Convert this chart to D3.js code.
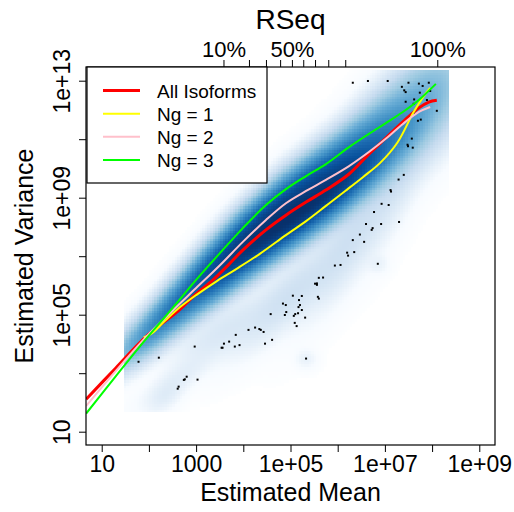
<!DOCTYPE html>
<html>
<head>
<meta charset="utf-8">
<script src="https://cdn.jsdelivr.net/npm/d3@7"></script>
<style>
  body { margin: 0; background: #fff; }
  text { font-family: "Liberation Sans", Arial, Helvetica, sans-serif; fill: #000; }
</style>
</head>
<body>
<div id="chart"></div>
<script>
(function() {
  'use strict';

  // ---- axis ticks (R style: some labels dropped because they overlap) ----
  var meanTicks = [10, 1e2, 1e3, 1e4, 1e5, 1e6, 1e7, 1e8, 1e9];
  var meanTickLabels = ['10', '', '1000', '', '1e+05', '', '1e+07', '', '1e+09'];
  var varTicks = [10, 1e3, 1e5, 1e7, 1e9, 1e11, 1e13];
  var varTickLabels = ['10', '', '1e+05', '', '1e+09', '', '1e+13'];

  // RSeq quantiles of the mean (log10), top axis
  var rseqLogMean = [3.58, 4.12, 4.48, 4.78, 5.03, 5.27, 5.52, 5.80, 6.16, 8.11];
  var rseqLabels = ['10%', '', '', '', '50%', '', '', '', '', '100%'];

  // ---- fitted mean/variance curves (log10 mean, log10 variance) ----
  var allLogMean = [0.67, 1.30, 1.94, 2.64, 3.00, 3.36, 3.70, 3.99, 4.48, 4.91, 5.33, 5.75, 6.24, 6.66, 7.02, 7.38, 7.72, 7.93, 8.10];
  var allLogVar  = [2.11, 3.18, 4.25, 5.16, 5.71, 6.19, 6.73, 7.21, 7.90, 8.41, 8.85, 9.26, 9.81, 10.49, 11.04, 11.59, 12.07, 12.27, 12.33];

  var ng1LogMean = [1.89, 2.07, 2.34, 2.66, 3.00, 3.44, 3.85, 4.35, 4.91, 5.33, 5.75, 6.16, 6.54, 6.90, 7.26, 7.60, 7.81, 7.96];
  var ng1LogVar  = [4.22, 4.37, 4.79, 5.26, 5.67, 6.15, 6.56, 7.08, 7.73, 8.20, 8.72, 9.23, 9.71, 10.19, 10.87, 11.90, 12.44, 12.75];

  var ng2LogMean = [0.67, 1.30, 1.94, 2.45, 3.00, 3.51, 3.99, 4.48, 4.91, 5.33, 5.75, 6.24, 6.66, 7.07, 7.38, 7.72, 7.96];
  var ng2LogVar  = [1.88, 3.08, 4.24, 5.06, 5.91, 6.70, 7.49, 8.24, 8.82, 9.23, 9.61, 10.08, 10.56, 11.08, 11.52, 11.93, 12.10];

  var ng3LogMean = [0.67, 1.30, 1.94, 2.45, 3.00, 3.49, 3.99, 4.48, 4.91, 5.33, 5.75, 6.24, 6.66, 7.02, 7.38, 7.72, 8.08];
  var ng3LogVar  = [1.62, 2.90, 4.17, 5.13, 6.19, 7.08, 7.96, 8.75, 9.30, 9.74, 10.15, 10.73, 11.18, 11.55, 11.93, 12.34, 12.89];

  var seriesNames = ['All Isoforms', 'Ng = 1', 'Ng = 2', 'Ng = 3'];

  // ---- low-density points drawn by smoothScatter (log10 mean, log10 variance) ----
  var outLogMean = [6.32, 6.64, 7.06, 7.50, 7.72, 7.80, 7.93, 7.36, 7.41, 7.44, 7.96, 7.74, 7.62, 7.44, 7.89, 7.61, 8.10, 7.62, 7.76, 7.70,
    7.57, 7.48, 7.49, 7.59, 7.40, 7.29, 7.12, 7.13, 6.93, 7.08, 6.77,
    7.30, 6.60, 6.92, 6.74, 6.72, 6.47, 6.32, 6.56, 6.20, 6.22, 6.35, 6.85, 5.94, 6.06, 5.60, 5.69, 5.52, 5.56, 5.56,
    5.05, 5.24, 5.18, 5.58, 5.60, 4.84, 4.90, 5.20, 5.17, 5.24, 4.91, 4.58, 4.88, 5.10, 5.16, 5.07, 5.31, 5.09, 5.13, 4.61,
    4.11, 4.25, 4.34, 4.37, 4.43, 3.84, 3.70, 3.59, 3.54, 3.56, 3.82, 3.92, 4.46, 2.97, 1.78, 2.21, 2.80, 2.76, 2.74, 3.03,
    2.63, 2.61, 5.33];
  var outLogVar = [12.93, 12.99, 12.99, 12.93, 12.90, 12.82, 12.93, 12.79, 12.67, 12.61, 12.65, 12.59, 12.36, 12.28, 12.34, 12.21, 11.97, 11.90, 11.67, 11.63,
    11.02, 10.81, 10.76, 10.71, 9.78, 9.62, 9.26, 9.21, 8.79, 8.75, 8.51,
    8.17, 8.10, 8.10, 7.96, 7.90, 7.74, 7.55, 7.49, 7.12, 7.02, 7.14, 6.74, 6.68, 6.70, 6.26, 6.27, 6.06, 6.07, 6.02,
    5.65, 5.64, 5.50, 5.61, 5.55, 5.38, 5.33, 5.33, 5.26, 5.16, 5.09, 5.02, 4.99, 5.02, 5.05, 4.96, 4.90, 4.72, 4.61, 4.14,
    4.48, 4.56, 4.51, 4.48, 4.41, 4.31, 4.08, 4.01, 3.87, 3.87, 3.91, 3.96, 4.01, 3.91, 3.39, 3.53, 2.88, 2.79, 2.77, 2.78,
    2.54, 2.47, 3.50];

  // ---- clusters of the point cloud, used for the smoothed density image ----
  // upper ridge, lower ridge, faint shoulder under the band, lower-left streaks, two isolated specks
  var clusterLogMean = [1.90, 2.70, 3.50, 4.30, 5.10, 5.90, 6.70, 7.50, 8.10,
    2.30, 3.10, 3.90, 4.70, 5.50, 6.30, 7.10, 7.90,
    3.60, 5.00, 6.30, 7.30,
    2.60, 2.35, 6.85, 5.33];
  var clusterLogVar = [4.40, 5.70, 7.00, 8.15, 9.15, 10.05, 11.05, 12.15, 12.95,
    4.70, 5.85, 6.90, 7.85, 8.75, 9.75, 10.85, 11.90,
    4.50, 5.70, 7.70, 10.00,
    2.80, 2.20, 6.75, 3.50];
  var clusterSlope = [1.5, 1.6, 1.5, 1.3, 1.2, 1.2, 1.3, 1.3, 1.3,
    1.3, 1.3, 1.3, 1.2, 1.2, 1.3, 1.4, 1.4,
    0.9, 1.3, 2.0, 2.5,
    1.0, 0.8, 0.0, 0.0];
  var clusterSdMean = [0.40, 0.45, 0.45, 0.45, 0.45, 0.45, 0.45, 0.45, 0.35,
    0.40, 0.45, 0.45, 0.45, 0.45, 0.45, 0.45, 0.45,
    0.55, 0.60, 0.50, 0.40,
    0.40, 0.20, 0.12, 0.12];
  var clusterSdVar = [0.36, 0.38, 0.40, 0.42, 0.45, 0.48, 0.58, 0.72, 0.80,
    0.36, 0.40, 0.42, 0.44, 0.45, 0.50, 0.60, 0.75,
    0.42, 0.50, 0.70, 0.80,
    0.28, 0.25, 0.18, 0.18];
  var clusterWeight = [0.06, 0.12, 0.24, 0.32, 0.32, 0.26, 0.10, 0.035, 0.01,
    0.08, 0.18, 0.38, 0.45, 0.45, 0.36, 0.12, 0.03,
    0.0025, 0.005, 0.005, 0.004,
    0.0012, 0.0012, 0.0006, 0.0006];

  // range of the data covered by the density image (log10)
  var gridLogMean = [1.47, 8.34];
  var gridLogVar = [1.67, 13.38];
  var nbin = 128;

  var blues9 = ['#F7FBFF', '#DEEBF7', '#C6DBEF', '#9ECAE1', '#6BAED6', '#4292C6', '#2171B5', '#08519C', '#08306B'];
  var lineColors = ['#FF0000', '#FFFF00', '#FFC0CB', '#00FF00'];
  var lineWidths = [3, 2, 2, 2];

  var svgW = 514, svgH = 512;
  var left = 86, right = 495, top = 67, bottom = 445;

  var svg = d3.select('#chart')
    .append('svg')
    .attr('width', svgW)
    .attr('height', svgH);

  var x = d3.scaleLog()
    .domain([Math.pow(10, 0.667), Math.pow(10, 9.333)])
    .range([left, right]);
  var y = d3.scaleLog()
    .domain([Math.pow(10, 0.545), Math.pow(10, 13.468)])
    .range([bottom, top]);

  function p10(v) { return Math.pow(10, v); }

  svg.append('clipPath')
    .attr('id', 'plot-clip')
    .append('rect')
    .attr('x', left).attr('y', top)
    .attr('width', right - left).attr('height', bottom - top);

  var plot = svg.append('g').attr('clip-path', 'url(#plot-clip)');

  // ---- smoothed density image (nbin x nbin, density^0.25 like smoothScatter) ----
  var dx = (gridLogMean[1] - gridLogMean[0]) / nbin,
    dy = (gridLogVar[1] - gridLogVar[0]) / nbin;
  var cells = [], maxD = 0;
  for (var j = 0; j < nbin; j++) {
    for (var i = 0; i < nbin; i++) {
      var lx = gridLogMean[0] + (i + 0.5) * dx,
        ly = gridLogVar[0] + (j + 0.5) * dy,
        d = 0;
      for (var k = 0; k < clusterWeight.length; k++) {
        var u = (lx - clusterLogMean[k]) / clusterSdMean[k];
        var v = (ly - clusterLogVar[k] - clusterSlope[k] * (lx - clusterLogMean[k])) / clusterSdVar[k];
        d += clusterWeight[k] * Math.exp(-0.5 * (u * u + v * v));
      }
      if (d > maxD) maxD = d;
      cells.push({ i: i, j: j, d: d });
    }
  }

  var ramp = d3.scaleLinear()
    .domain(d3.range(10).map(function(n) { return n / 9; }))
    .range(['#FFFFFF'].concat(blues9))
    .clamp(true);

  cells.forEach(function(c) {
    c.t = Math.pow(c.d / maxD, 0.25);
  });

  plot.append('g')
    .selectAll('rect')
    .data(cells.filter(function(c) { return c.t > 0.03; }))
    .enter()
    .append('rect')
    .attr('x', function(c) { return x(p10(gridLogMean[0] + c.i * dx)); })
    .attr('y', function(c) { return y(p10(gridLogVar[0] + (c.j + 1) * dy)); })
    .attr('width', function(c) { return x(p10(gridLogMean[0] + (c.i + 1) * dx)) - x(p10(gridLogMean[0] + c.i * dx)) + 0.4; })
    .attr('height', function(c) { return y(p10(gridLogVar[0] + c.j * dy)) - y(p10(gridLogVar[0] + (c.j + 1) * dy)) + 0.4; })
    .attr('fill', function(c) { return ramp(c.t); })
    .attr('shape-rendering', 'crispEdges');

  // ---- outlying points ----
  plot.append('g')
    .selectAll('rect')
    .data(outLogMean.map(function(m, n) { return [m, outLogVar[n]]; }))
    .enter()
    .append('rect')
    .attr('x', function(d) { return x(p10(d[0])) - 1; })
    .attr('y', function(d) { return y(p10(d[1])) - 1; })
    .attr('width', 2)
    .attr('height', 2)
    .attr('fill', '#000');

  // ---- curves ----
  var curves = [
    [allLogMean, allLogVar],
    [ng1LogMean, ng1LogVar],
    [ng2LogMean, ng2LogVar],
    [ng3LogMean, ng3LogVar]
  ];

  var line = d3.line()
    .x(function(d) { return x(p10(d[0])); })
    .y(function(d) { return y(p10(d[1])); })
    .curve(d3.curveCatmullRom.alpha(0.5));

  curves.forEach(function(c, n) {
    var pts = c[0].map(function(m, q) { return [m, c[1][q]]; });
    plot.append('path')
      .attr('d', line(pts))
      .attr('fill', 'none')
      .attr('stroke', lineColors[n])
      .attr('stroke-width', lineWidths[n]);
  });

  // ---- box ----
  svg.append('rect')
    .attr('x', left).attr('y', top)
    .attr('width', right - left).attr('height', bottom - top)
    .attr('fill', 'none')
    .attr('stroke', '#000')
    .attr('stroke-width', 1.2);

  // ---- axes ----
  var xAxis = svg.append('g')
    .attr('transform', 'translate(0,' + bottom + ')')
    .call(d3.axisBottom(x).tickValues(meanTicks).tickSize(7).tickPadding(4)
      .tickFormat(function(d, n) { return meanTickLabels[n]; }));
  xAxis.select('.domain').remove();
  xAxis.selectAll('text').attr('font-size', 23).attr('dy', '0.71em');

  var yAxis = svg.append('g')
    .attr('transform', 'translate(' + left + ',0)')
    .call(d3.axisLeft(y).tickValues(varTicks).tickSize(7)
      .tickFormat(function(d, n) { return varTickLabels[n]; }));
  yAxis.select('.domain').remove();
  yAxis.selectAll('text')
    .attr('font-size', 23)
    .attr('text-anchor', 'middle')
    .attr('x', 0)
    .attr('dy', 0)
    .attr('transform', 'translate(-16,0) rotate(-90)');

  var topAxis = svg.append('g')
    .attr('transform', 'translate(0,' + top + ')')
    .call(d3.axisTop(x).tickValues(rseqLogMean.map(p10)).tickSize(7).tickPadding(3)
      .tickFormat(function(d, n) { return rseqLabels[n]; }));
  topAxis.select('.domain').remove();
  topAxis.selectAll('text').attr('font-size', 22);

  svg.selectAll('.tick line').attr('stroke', '#000');
  svg.selectAll('.tick text').attr('fill', '#000').style('font-family', '"Liberation Sans", Arial, sans-serif');

  // ---- titles ----
  svg.append('text')
    .attr('x', (left + right) / 2)
    .attr('y', 29)
    .attr('text-anchor', 'middle')
    .attr('font-size', 28)
    .text('RSeq');

  svg.append('text')
    .attr('x', (left + right) / 2)
    .attr('y', 501)
    .attr('text-anchor', 'middle')
    .attr('font-size', 25)
    .text('Estimated Mean');

  svg.append('text')
    .attr('transform', 'translate(33,' + (top + bottom) / 2 + ') rotate(-90)')
    .attr('text-anchor', 'middle')
    .attr('font-size', 25)
    .text('Estimated Variance');

  // ---- legend ----
  var legend = svg.append('g');
  legend.append('rect')
    .attr('x', left + 1).attr('y', top)
    .attr('width', 180).attr('height', 116)
    .attr('fill', '#fff')
    .attr('stroke', '#000')
    .attr('stroke-width', 1.2);

  var rowY = d3.scalePoint().domain(seriesNames).range([90.5, 160]);
  seriesNames.forEach(function(name, n) {
    legend.append('line')
      .attr('x1', 103).attr('x2', 140)
      .attr('y1', rowY(name)).attr('y2', rowY(name))
      .attr('stroke', lineColors[n])
      .attr('stroke-width', lineWidths[n]);
    legend.append('text')
      .attr('x', 157)
      .attr('y', rowY(name) + 7)
      .attr('font-size', 19)
      .text(name);
  });

}());
</script>
</body>
</html>
